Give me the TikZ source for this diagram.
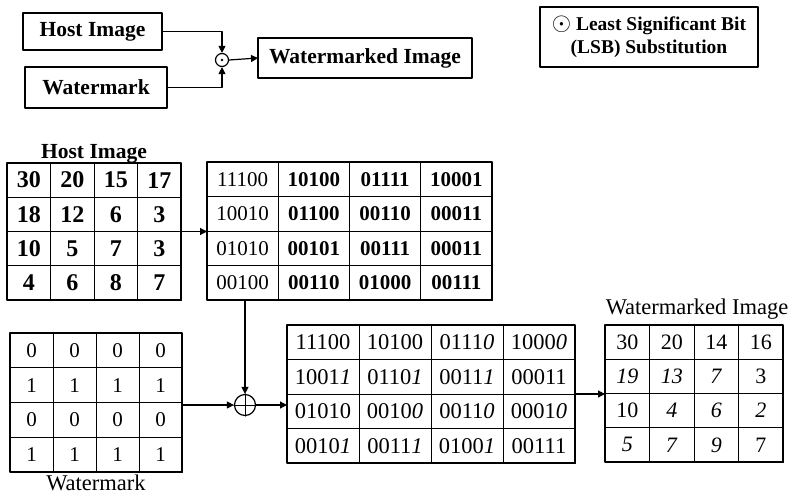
\documentclass[tikz,border=0pt]{standalone}
\usepackage{fontspec}
\setmainfont{Liberation Serif}
\usetikzlibrary{arrows.meta}

\begin{document}
\begin{tikzpicture}[
    x=1pt,
    y=-1pt,
    line cap=round,
    line join=round,
    box/.style={draw,line width=1.4pt,inner sep=0pt,outer sep=0pt,font=\fontsize{21.5}{24}\selectfont\bfseries},
    cell/.style={draw,line width=1pt,inner sep=0pt,outer sep=0pt},
    frame/.style={line width=2.2pt},
    arr/.style={line width=1.2pt,-{Triangle[length=7pt,width=7pt]}},
    gridcap/.style={anchor=base,inner sep=0pt,font=\fontsize{22.5}{24}\selectfont}
]

\useasboundingbox (0,0) rectangle (792,495);

% -------------------------------------------------
% Scheme on top
% -------------------------------------------------

\node[box,minimum width=139pt,minimum height=37pt] (hostbox) at (92.5,31.5) {Host Image};
\node[box,minimum width=142pt,minimum height=41pt] (wmbox)   at (96,87.5)   {Watermark};
\node[circle,draw,line width=1.2pt,minimum size=13pt,inner sep=0pt] (lsb) at (222,60) {};
\fill (lsb) circle (1.4pt);
\node[box,minimum width=214pt,minimum height=40pt] (outbox) at (365,58) {Watermarked Image};

\draw[arr] (hostbox.east) -| (lsb.north);
\draw[arr] (wmbox.east)   -| (lsb.south);
\draw[arr] (lsb.east) -- (outbox.west);

% Legend
\node[box,font=\fontsize{19.5}{23}\selectfont\bfseries,align=center,
      minimum width=218pt,minimum height=60pt] (legend) at (649,37)
      {{\fontsize{27}{23}\selectfont$\odot$} Least Significant Bit\\(LSB) Substitution};

% -------------------------------------------------
% Host image
% -------------------------------------------------

\foreach \row [count=\r] in {{30,20,15,17},{18,12,6,3},{10,5,7,3},{4,6,8,7}}
  \foreach \v [count=\c] in \row
    \node[cell,minimum width=43.5pt,minimum height=34.25pt,font=\fontsize{24}{24}\selectfont\bfseries]
      (host-\r-\c) at ({7+(\c-0.5)*43.5},{163+(\r-0.5)*34.25}) {\v};
\draw[frame] (host-1-1.north west) rectangle (host-4-4.south east);
\node[gridcap,font=\fontsize{21.5}{24}\selectfont\bfseries] (hostcap) at (94,158) {Host Image};

% Host image in binary
\foreach \row [count=\r] in {{11100,10100,01111,10001},{10010,01100,00110,00011},
                             {01010,00101,00111,00011},{00100,00110,01000,00111}}
  \foreach \v [count=\c] in \row
    \node[cell,minimum width=71.25pt,minimum height=34.5pt,font=\fontsize{21}{24}\selectfont]
      (bin-\r-\c) at ({207+(\c-0.5)*71.25},{162+(\r-0.5)*34.5}) {\ifnum\c>1 \bfseries\fi\v};
\draw[frame] (bin-1-1.north west) rectangle (bin-4-4.south east);

% -------------------------------------------------
% Watermark
% -------------------------------------------------

\foreach \row [count=\r] in {{0,0,0,0},{1,1,1,1},{0,0,0,0},{1,1,1,1}}
  \foreach \v [count=\c] in \row
    \node[cell,minimum width=43pt,minimum height=34.75pt,font=\fontsize{21}{24}\selectfont]
      (wm-\r-\c) at ({10+(\c-0.5)*43},{333+(\r-0.5)*34.75}) {\v};
\draw[frame] (wm-1-1.north west) rectangle (wm-4-4.south east);
\node[gridcap] (wmcap) at (96,490) {Watermark};

% LSB substitution
\node[circle,draw,line width=1.2pt,minimum size=21pt,inner sep=0pt] (mix) at (245,405) {};
\draw[line width=1pt] (mix.north) -- (mix.south) (mix.west) -- (mix.east);

% -------------------------------------------------
% Result in binary
% -------------------------------------------------

\foreach \row [count=\r] in {{11100,10100,0111\textit{0},1000\textit{0}},
                             {1001\textit{1},0110\textit{1},0011\textit{1},00011},
                             {01010,0010\textit{0},0011\textit{0},0001\textit{0}},
                             {0010\textit{1},0011\textit{1},0100\textit{1},00111}}
  \foreach \v [count=\c] in \row
    \node[cell,minimum width=72pt,minimum height=34.5pt,font=\fontsize{22.5}{24}\selectfont]
      (res-\r-\c) at ({287+(\c-0.5)*72},{325+(\r-0.5)*34.5}) {\v};
\draw[frame] (res-1-1.north west) rectangle (res-4-4.south east);

% Watermarked image
\foreach \row [count=\r] in {{30,20,14,16},{\textit{19},\textit{13},\textit{7},3},
                             {10,\textit{4},\textit{6},\textit{2}},{\textit{5},\textit{7},\textit{9},7}}
  \foreach \v [count=\c] in \row
    \node[cell,minimum width=44.5pt,minimum height=34.25pt,font=\fontsize{22}{24}\selectfont]
      (out-\r-\c) at ({605+(\c-0.5)*44.5},{325+(\r-0.5)*34.25}) {\v};
\draw[frame] (out-1-1.north west) rectangle (out-4-4.south east);
\node[gridcap] (outcap) at (697,314) {Watermarked Image};

% -------------------------------------------------
% Arrows
% -------------------------------------------------

\draw[arr] (host-2-4.south east) -- (host-2-4.south east -| bin-2-1.west);
\draw[arr] (mix |- bin-4-1.south) -- (mix.north);
\draw[arr] (mix.west -| wm-2-4.east) -- (mix.west);
\draw[arr] (mix.east) -- (mix.east -| res-2-1.west);
\draw[arr] (res-2-4.south east) -- (res-2-4.south east -| out-2-1.west);

\end{tikzpicture}
\end{document}
